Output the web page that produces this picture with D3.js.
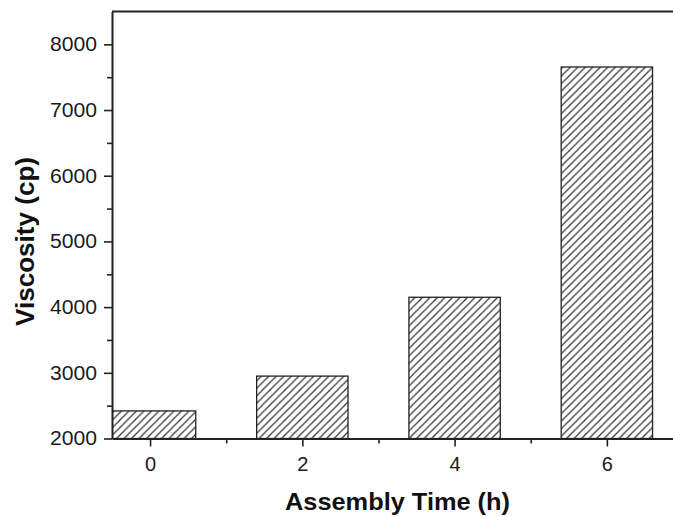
<!DOCTYPE html>
<html>
<head>
<meta charset="utf-8">
<script src="https://cdn.jsdelivr.net/npm/d3@7"></script>
<style>
  body { margin: 0; background: #fff; }
  svg { display: block; font-family: Arial, "Liberation Sans", sans-serif; }
</style>
</head>
<body>
<div id="container"></div>
<script>
let w = 673;
let h = 517;

// data
let times = [0, 2, 4, 6];
let viscosity = [2420, 2950, 4150, 7655];
let yTicks = [2000, 3000, 4000, 5000, 6000, 7000, 8000];
let xTicks = [0, 2, 4, 6];

let padLeft = 112, padRight = 683, padTop = 11.5, padBottom = 438.5;

let viz = d3.select("#container").append("svg")
  .attr("width", w)
  .attr("height", h);

// hatch pattern for the bars
let defs = viz.append("defs");
let pat = defs.append("pattern")
  .attr("id", "hatch")
  .attr("patternUnits", "userSpaceOnUse")
  .attr("width", 7.5)
  .attr("height", 7.5);
pat.append("rect").attr("width", 7.5).attr("height", 7.5).attr("fill", "#fff");
pat.append("path")
  .attr("d", "M-1,1 l2,-2 M0,7.5 l7.5,-7.5 M6.5,8.5 l2,-2")
  .attr("stroke", "#333")
  .attr("stroke-width", 1.2);

defs.append("clipPath").attr("id", "plotclip")
  .append("rect")
  .attr("x", padLeft).attr("y", padTop)
  .attr("width", padRight - padLeft).attr("height", padBottom - padTop);

let xScale = d3.scaleLinear().domain([-0.5, 7]).range([padLeft, padRight]);
let yScale = d3.scaleLinear().domain([2000, 8500]).range([padBottom, padTop]);
let barW = xScale(1.2) - xScale(0);

// bars
viz.append("g").attr("clip-path", "url(#plotclip)")
  .selectAll("rect")
  .data(times)
  .enter()
  .append("rect")
  .attr("x", d => xScale(d) - barW / 2)
  .attr("y", (d, i) => yScale(viscosity[i]))
  .attr("width", barW)
  .attr("height", (d, i) => yScale(2000) - yScale(viscosity[i]))
  .attr("fill", "url(#hatch)")
  .attr("stroke", "#222")
  .attr("stroke-width", 1.3);

// minor ticks
let yMinor = d3.axisLeft(yScale).tickValues(d3.range(2500, 8500, 1000))
  .tickSize(5).tickFormat("");
let yMinorG = viz.append("g").attr("transform", "translate(" + padLeft + ",0)").call(yMinor);
yMinorG.select(".domain").remove();

let xMinor = d3.axisBottom(xScale).tickValues([1, 3, 5])
  .tickSize(5).tickFormat("");
let xMinorG = viz.append("g").attr("transform", "translate(0," + padBottom + ")").call(xMinor);
xMinorG.select(".domain").remove();

// major axes
let yAxis = d3.axisLeft(yScale).tickValues(yTicks).tickFormat(d3.format("d"))
  .tickSize(8).tickPadding(7).tickSizeOuter(0);
let yAxisG = viz.append("g").attr("transform", "translate(" + padLeft + ",0)").call(yAxis);

let xAxis = d3.axisBottom(xScale).tickValues(xTicks).tickFormat(d3.format("d"))
  .tickSize(8).tickPadding(10).tickSizeOuter(0);
let xAxisG = viz.append("g").attr("transform", "translate(0," + padBottom + ")").call(xAxis);

viz.selectAll(".tick line").attr("stroke", "#222").attr("stroke-width", 1.6);
viz.selectAll(".domain").attr("stroke", "#222").attr("stroke-width", 2);
viz.selectAll(".tick text").attr("font-size", 20).attr("fill", "#1a1a1a")
  .attr("font-family", "Arial, 'Liberation Sans', sans-serif");
yAxisG.selectAll(".tick text").attr("textLength", 47).attr("lengthAdjust", "spacingAndGlyphs");

// top frame line
viz.append("line")
  .attr("x1", padLeft).attr("x2", padRight)
  .attr("y1", padTop).attr("y2", padTop)
  .attr("stroke", "#222").attr("stroke-width", 2);

// axis titles
viz.append("text")
  .attr("x", 285)
  .attr("y", 510)
  .attr("font-size", 24)
  .attr("font-weight", "bold")
  .attr("fill", "#111")
  .attr("textLength", 225)
  .attr("lengthAdjust", "spacingAndGlyphs")
  .text("Assembly Time (h)");

viz.append("text")
  .attr("transform", "translate(34,326) rotate(-90)")
  .attr("font-size", 25)
  .attr("font-weight", "bold")
  .attr("fill", "#111")
  .attr("textLength", 169)
  .attr("lengthAdjust", "spacingAndGlyphs")
  .text("Viscosity (cp)");
</script>
</body>
</html>
